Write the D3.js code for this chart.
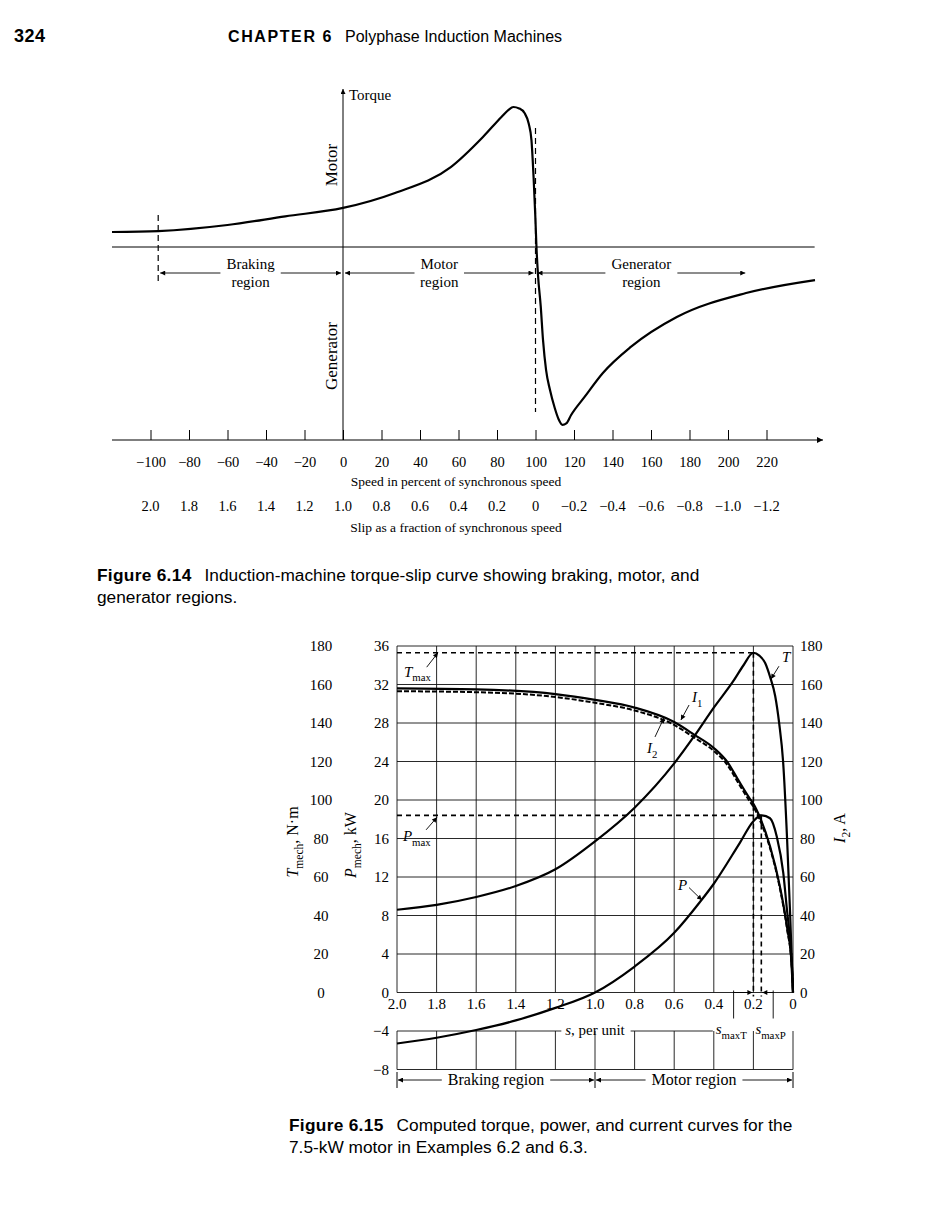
<!DOCTYPE html>
<html>
<head>
<meta charset="utf-8">
<script src="https://cdn.jsdelivr.net/npm/d3@7"></script>
<style>
  body { margin: 0; background: #fff; }
  svg { display: block; }
  .serif { font-family: 'Liberation Serif', 'DejaVu Serif', serif; }
  .sans { font-family: 'Liberation Sans', Arial, sans-serif; }
</style>
</head>
<body>
<script>
// ---------- Figure 6.14 : torque vs speed ----------
const speedTicks = [-100, -80, -60, -40, -20, 0, 20, 40, 60, 80, 100, 120, 140, 160, 180, 200, 220]
const slipTicks14 = [2.0, 1.8, 1.6, 1.4, 1.2, 1.0, 0.8, 0.6, 0.4, 0.2, 0, -0.2, -0.4, -0.6, -0.8, -1.0, -1.2]
// speed in percent, torque relative to breakdown torque
const curveSpeed = [-120, -96, -60, -30, 0, 27, 56, 72.7, 82.3, 86, 88.5, 91.5, 94.3, 96.5, 97.9, 99.0, 99.9, 100.5,
  101.3, 102.7, 103.9, 105.5, 107.5, 110, 112, 114, 116, 118.5, 125.5, 135, 149.5, 173.4, 209.4, 245.2]
const curveTorque = [0.107, 0.114, 0.157, 0.219, 0.279, 0.386, 0.571, 0.786, 0.929, 0.98, 1.0, 0.99, 0.957, 0.88, 0.764, 0.5, 0.22, 0,
  -0.2, -0.42, -0.664, -0.88, -1.02, -1.15, -1.23, -1.27, -1.26, -1.2, -1.071, -0.9, -0.714, -0.5, -0.329, -0.236]
const regionNames14 = ['Braking', 'Motor', 'Generator']
const regionBounds14 = [-96, 0, 100, 210]

// ---------- Figure 6.15 : computed curves ----------
const slipTicks15 = [2.0, 1.8, 1.6, 1.4, 1.2, 1.0, 0.8, 0.6, 0.4, 0.2, 0]
const pmechTicks = [-8, -4, 0, 4, 8, 12, 16, 20, 24, 28, 32, 36]
const tmechTicks = [0, 20, 40, 60, 80, 100, 120, 140, 160, 180]
const ampTicks = [0, 20, 40, 60, 80, 100, 120, 140, 160, 180]

const torqueSlip = [2.0, 1.8, 1.6, 1.4, 1.2, 1.0, 0.8, 0.6, 0.5, 0.4, 0.3, 0.25, 0.2, 0.17, 0.14, 0.116, 0.09, 0.07, 0.05, 0.03, 0.015, 0]
const torqueNm = [43, 45.5, 49.6, 55.3, 64, 78.5, 96, 119, 133, 148, 162, 170, 176.5, 175, 171, 164, 154, 140, 120, 80, 42, 0]

const currentSlip = [2.0, 1.6, 1.2, 1.0, 0.8, 0.6, 0.5, 0.4, 0.33, 0.28, 0.22, 0.2, 0.167, 0.116, 0.066, 0.03, 0.005, 0]
const i1Amp = [158, 157.5, 155, 152, 148, 140.5, 134, 127, 119.5, 111, 101, 98, 91, 76, 55, 34, 13, 0]
const i2Amp = [156.5, 156, 153.5, 150.5, 146.5, 139, 132.5, 125.5, 118, 109.5, 99.5, 96.5, 89.5, 75, 54, 33, 12.5, 0]

const powerSlip = [2.0, 1.8, 1.6, 1.4, 1.2, 1.0, 0.8, 0.6, 0.47, 0.4, 0.27, 0.2, 0.16, 0.116, 0.082, 0.049, 0.032, 0.015, 0]
const powerKw = [-5.3, -4.7, -3.9, -2.9, -1.6, 0, 2.7, 6.2, 9.4, 11.3, 15.5, 17.8, 18.4, 18.1, 16.2, 12.4, 8.9, 5.4, 0]

const regionNames15 = ['Braking region', 'Motor region']
const regionBounds15 = [2.0, 1.0, 0]

const W = 936
const H = 1230
const svg = d3.select('body').append('svg').attr('width', W).attr('height', H)
const defs = svg.append('defs')

function addMarker (id, w, h) {
  defs.append('marker')
    .attr('id', id)
    .attr('viewBox', '0 0 10 10')
    .attr('refX', 10)
    .attr('refY', 5)
    .attr('markerUnits', 'userSpaceOnUse')
    .attr('markerWidth', w)
    .attr('markerHeight', h)
    .attr('orient', 'auto-start-reverse')
    .append('path')
    .attr('d', 'M0,0L10,5L0,10z')
    .attr('fill', '#000')
}
addMarker('head', 10, 6)
addMarker('headSmall', 8, 5)

function hline (g, x1, x2, y, w = 1) {
  return g.append('line').attr('x1', x1).attr('x2', x2).attr('y1', y).attr('y2', y)
    .attr('stroke', '#000').attr('stroke-width', w)
}
function vline (g, x, y1, y2, w = 1) {
  return g.append('line').attr('x1', x).attr('x2', x).attr('y1', y1).attr('y2', y2)
    .attr('stroke', '#000').attr('stroke-width', w)
}

// page header
const page = svg.append('g').attr('class', 'sans')
page.append('text').attr('x', 14).attr('y', 42).attr('font-size', 18).attr('font-weight', 900)
  .attr('letter-spacing', 0.5).text('324')
page.append('text').attr('x', 228).attr('y', 42).attr('font-size', 16).attr('font-weight', 900)
  .attr('letter-spacing', 1.6).text('CHAPTER 6')
page.append('text').attr('x', 345).attr('y', 42).attr('font-size', 16).text('Polyphase Induction Machines')

// ================= Figure 6.14 =================
const f14 = svg.append('g').attr('class', 'serif')
const xSpeed = d3.scaleLinear().domain([-100, 220]).range([150.5, 766.5])
const yTorque = d3.scaleLinear().domain([0, 1]).range([247, 107])
const axisY = 440

hline(f14, xSpeed(-120), xSpeed(245), yTorque(0))
vline(f14, xSpeed(0), axisY, 89).attr('marker-end', 'url(#headSmall)')
f14.append('text').attr('x', xSpeed(0) + 6).attr('y', 100).attr('font-size', 15).text('Torque')

// speed axis
hline(f14, xSpeed(-120), 823, axisY, 1.2).attr('marker-end', 'url(#head)')
const speedAxis = d3.axisBottom(xSpeed)
  .tickValues(speedTicks)
  .tickSize(-10)
  .tickPadding(17)
  .tickFormat(d3.format('d'))
const gSpeed = f14.append('g')
  .attr('transform', `translate(0,${axisY})`)
  .call(speedAxis)
  .attr('font-family', null)
  .attr('font-size', 14.5)
gSpeed.select('.domain').remove()
gSpeed.selectAll('.tick line').attr('stroke', '#000')
gSpeed.selectAll('.tick text').attr('fill', '#000')

f14.append('text').attr('x', 456).attr('y', 486).attr('text-anchor', 'middle').attr('font-size', 13.5)
  .text('Speed in percent of synchronous speed')

const fmtSlip = d => d === 0 ? '0' : d3.format('.1f')(d)
f14.selectAll('text.slip')
  .data(slipTicks14)
  .join('text')
  .attr('class', 'slip')
  .attr('x', d => xSpeed((1 - d) * 100))
  .attr('y', 511)
  .attr('text-anchor', 'middle')
  .attr('font-size', 14.5)
  .text(fmtSlip)
f14.append('text').attr('x', 456).attr('y', 532).attr('text-anchor', 'middle').attr('font-size', 13.5)
  .text('Slip as a fraction of synchronous speed')

// rotated quadrant labels
f14.append('text').attr('transform', `translate(${xSpeed(0) - 6},165) rotate(-90)`)
  .attr('text-anchor', 'middle').attr('font-size', 17).text('Motor')
f14.append('text').attr('transform', `translate(${xSpeed(0) - 6},356) rotate(-90)`)
  .attr('text-anchor', 'middle').attr('font-size', 17).text('Generator')

// dashed region boundaries
vline(f14, xSpeed(regionBounds14[0]), 215, 281, 1.2).attr('stroke-dasharray', '6,4')
vline(f14, xSpeed(regionBounds14[2]), 128, 412, 1.2).attr('stroke-dasharray', '6,4')

// region arrows
const arrowY14 = 273
regionNames14.forEach((name, i) => {
  const x0 = xSpeed(regionBounds14[i])
  const x1 = xSpeed(regionBounds14[i + 1])
  const xm = (x0 + x1) / 2
  const t = f14.append('text').attr('x', xm).attr('y', 269).attr('text-anchor', 'middle')
    .attr('font-size', 15).text(name)
  f14.append('text').attr('x', xm).attr('y', 287).attr('text-anchor', 'middle')
    .attr('font-size', 15).text('region')
  const w = t.node().getComputedTextLength()
  hline(f14, xm - w / 2 - 6, x0 + 2, arrowY14, 0.9).attr('marker-end', 'url(#headSmall)')
  hline(f14, xm + w / 2 + 6, x1 - 2, arrowY14, 0.9).attr('marker-end', 'url(#headSmall)')
})

// torque-speed curve
const torqueLine = d3.line()
  .x(d => xSpeed(d[0]))
  .y(d => yTorque(d[1]))
  .curve(d3.curveMonotoneX)
f14.append('path')
  .datum(d3.zip(curveSpeed, curveTorque))
  .attr('d', torqueLine)
  .attr('fill', 'none')
  .attr('stroke', '#000')
  .attr('stroke-width', 2.2)

// captions
function caption (x, y, label, lines, size) {
  const g = svg.append('g').attr('class', 'sans').attr('font-size', size)
  const b = g.append('text').attr('x', x).attr('y', y).attr('font-weight', 900)
    .attr('letter-spacing', 0.3).text(label)
  const bw = b.node().getComputedTextLength()
  g.append('text').attr('x', x + bw + 13).attr('y', y).text(lines[0])
  g.append('text').attr('x', x).attr('y', y + 22).text(lines[1])
}
caption(97, 581, 'Figure 6.14',
  ['Induction-machine torque-slip curve showing braking, motor, and', 'generator regions.'], 17.3)

// ================= Figure 6.15 =================
const f15 = svg.append('g').attr('class', 'serif')
const xSlip = d3.scaleLinear().domain([2, 0]).range([397, 793])
const yKw = d3.scaleLinear().domain([-8, 36]).range([1069.5, 646])
const yAmp = d3.scaleLinear().domain([0, 180]).range([yKw(0), yKw(36)])
const yNm = yAmp.copy()

// grid
const grid = f15.append('g').attr('stroke', '#111').attr('stroke-width', 0.9)
grid.selectAll('line.hg')
  .data(pmechTicks.filter(d => d >= 0))
  .join('line')
  .attr('class', 'hg')
  .attr('x1', xSlip(2)).attr('x2', xSlip(0))
  .attr('y1', d => yKw(d)).attr('y2', d => yKw(d))
grid.selectAll('line.vg')
  .data(slipTicks15)
  .join('line')
  .attr('class', 'vg')
  .attr('x1', d => xSlip(d)).attr('x2', d => xSlip(d))
  .attr('y1', yKw(0)).attr('y2', yKw(36))
grid.selectAll('line.vl')
  .data(slipTicks15)
  .join('line')
  .attr('class', 'vl')
  .attr('x1', d => xSlip(d)).attr('x2', d => xSlip(d))
  .attr('y1', yKw(-4)).attr('y2', yKw(-8))
grid.selectAll('line.ll')
  .data([[2, 1.17], [0.82, 0.405], [2, 0]])
  .join('line')
  .attr('class', 'll')
  .attr('x1', d => xSlip(d[0])).attr('x2', d => xSlip(d[1]))
  .attr('y1', (d, i) => yKw(i < 2 ? -4 : -8)).attr('y2', (d, i) => yKw(i < 2 ? -4 : -8))

// tick labels
const tickFont = 15
f15.selectAll('text.xl')
  .data(slipTicks15)
  .join('text')
  .attr('class', 'xl')
  .attr('x', d => xSlip(d))
  .attr('y', yKw(0) + 16)
  .attr('text-anchor', 'middle')
  .attr('font-size', tickFont)
  .text(fmtSlip)
f15.selectAll('text.kw')
  .data(pmechTicks)
  .join('text')
  .attr('class', 'kw')
  .attr('x', 389)
  .attr('y', d => yKw(d) + 5)
  .attr('text-anchor', 'end')
  .attr('font-size', tickFont)
  .text(d3.format('d'))
f15.selectAll('text.nm')
  .data(tmechTicks)
  .join('text')
  .attr('class', 'nm')
  .attr('x', 321)
  .attr('y', d => yNm(d) + 5)
  .attr('text-anchor', 'middle')
  .attr('font-size', tickFont)
  .text(d3.format('d'))
f15.selectAll('text.amp')
  .data(ampTicks)
  .join('text')
  .attr('class', 'amp')
  .attr('x', 800)
  .attr('y', d => yAmp(d) + 5)
  .attr('font-size', tickFont)
  .text(d3.format('d'))

// axis titles
function subLabel (g, main, sub, rest, size) {
  const t = g.append('text').attr('font-size', size)
  t.append('tspan').attr('font-style', 'italic').text(main)
  t.append('tspan').attr('font-size', size * 0.72).attr('dy', size * 0.3).text(sub)
  if (rest) t.append('tspan').attr('dy', -size * 0.3).text(rest)
  return t
}
subLabel(f15, 'T', 'mech', ', N·m', 16)
  .attr('text-anchor', 'middle').attr('transform', 'translate(298,842) rotate(-90)')
subLabel(f15, 'P', 'mech', ', kW', 16)
  .attr('text-anchor', 'middle').attr('transform', 'translate(356,845) rotate(-90)')
subLabel(f15, 'I', '2', ', A', 16)
  .attr('text-anchor', 'middle').attr('transform', 'translate(845,828) rotate(-90)')

// maximum torque / power markers
const iTmax = d3.maxIndex(torqueNm)
const tMax = torqueNm[iTmax]
const sMaxT = torqueSlip[iTmax]
const iPmax = d3.maxIndex(powerKw)
const pMax = powerKw[iPmax]
const sMaxP = powerSlip[iPmax]

const dash = f15.append('g').attr('stroke', '#000').attr('stroke-width', 1.6).attr('stroke-dasharray', '5,4')
dash.append('line').attr('x1', xSlip(2)).attr('x2', xSlip(sMaxT)).attr('y1', yNm(tMax)).attr('y2', yNm(tMax))
dash.append('line').attr('x1', xSlip(2)).attr('x2', xSlip(sMaxP)).attr('y1', yKw(pMax)).attr('y2', yKw(pMax))
dash.append('line').attr('x1', xSlip(sMaxT)).attr('x2', xSlip(sMaxT)).attr('y1', yNm(tMax)).attr('y2', yKw(0) + 4)
dash.append('line').attr('x1', xSlip(sMaxP)).attr('x2', xSlip(sMaxP)).attr('y1', yKw(pMax)).attr('y2', yKw(0) + 4)

// s_maxT / s_maxP brackets under the axis
const yBr = yKw(0)
vline(f15, xSlip(0.3), yBr - 2, yBr + 26, 0.9)
vline(f15, xSlip(0.1), yBr - 2, yBr + 26, 0.9)
hline(f15, xSlip(0.3), xSlip(sMaxT) - 1, yBr, 0.9).attr('marker-end', 'url(#headSmall)')
hline(f15, xSlip(0.1), xSlip(sMaxP) + 1, yBr, 0.9).attr('marker-end', 'url(#headSmall)')

const sText = f15.append('text').attr('x', xSlip(1.0)).attr('y', yKw(-4) + 4).attr('text-anchor', 'middle')
  .attr('font-size', 15)
sText.append('tspan').attr('font-style', 'italic').text('s')
sText.append('tspan').text(', per unit')
subLabel(f15, 's', 'maxT', null, 15).attr('x', xSlip(0.39)).attr('y', yKw(-4) + 3)
subLabel(f15, 's', 'maxP', null, 15).attr('x', xSlip(0.19)).attr('y', yKw(-4) + 3)

// curves
const curves = f15.append('g').attr('fill', 'none').attr('stroke', '#000')
function slipLine (ys) {
  return d3.line().x(d => xSlip(d[0])).y(d => ys(d[1])).curve(d3.curveMonotoneX)
}
curves.append('path').datum(d3.zip(currentSlip, i2Amp)).attr('d', slipLine(yAmp))
  .attr('stroke-width', 2).attr('stroke-dasharray', '5,2')
curves.append('path').datum(d3.zip(currentSlip, i1Amp)).attr('d', slipLine(yAmp))
  .attr('stroke-width', 2.2)
curves.append('path').datum(d3.zip(torqueSlip, torqueNm)).attr('d', slipLine(yNm))
  .attr('stroke-width', 2.2)
curves.append('path').datum(d3.zip(powerSlip, powerKw)).attr('d', slipLine(yKw))
  .attr('stroke-width', 2.2)

// annotations, positions in (slip, kW-axis) units
const notes = [
  { main: 'T', sub: 'max', at: [1.965, 32.8], from: [1.85, 33.8], to: [1.793, 35.3] },
  { main: 'P', sub: 'max', at: [1.97, 15.74], from: [1.853, 16.9], to: [1.798, 18.2] },
  { main: 'T', sub: '', at: [0.056, 34.3], from: [0.071, 33.9], to: [0.111, 32.57] },
  { main: 'I', sub: '1', at: [0.51, 30.18], from: [0.525, 29.87], to: [0.566, 28.31] },
  { main: 'I', sub: '2', at: [0.737, 24.88], from: [0.697, 26.55], to: [0.652, 28.52] },
  { main: 'P', sub: '', at: [0.581, 10.65], from: [0.525, 10.9], to: [0.46, 9.6] }
]
notes.forEach(n => {
  subLabel(f15, n.main, n.sub, null, 15).attr('x', xSlip(n.at[0])).attr('y', yKw(n.at[1]))
  f15.append('line')
    .attr('x1', xSlip(n.from[0])).attr('y1', yKw(n.from[1]))
    .attr('x2', xSlip(n.to[0])).attr('y2', yKw(n.to[1]))
    .attr('stroke', '#000').attr('stroke-width', 0.9)
    .attr('marker-end', 'url(#headSmall)')
})

// region arrows under the plot
const arrowY15 = 1080
regionBounds15.forEach(s => vline(f15, xSlip(s), arrowY15 - 8, arrowY15 + 8, 1))
regionNames15.forEach((name, i) => {
  const x0 = xSlip(regionBounds15[i])
  const x1 = xSlip(regionBounds15[i + 1])
  const xm = (x0 + x1) / 2
  const t = f15.append('text').attr('x', xm).attr('y', arrowY15 + 5).attr('text-anchor', 'middle')
    .attr('font-size', 16).text(name)
  const w = t.node().getComputedTextLength()
  hline(f15, xm - w / 2 - 6, x0 + 1, arrowY15, 0.9).attr('marker-end', 'url(#headSmall)')
  hline(f15, xm + w / 2 + 6, x1 - 1, arrowY15, 0.9).attr('marker-end', 'url(#headSmall)')
})

caption(289, 1131, 'Figure 6.15',
  ['Computed torque, power, and current curves for the', '7.5-kW motor in Examples 6.2 and 6.3.'], 17.3)
</script>
</body>
</html>
